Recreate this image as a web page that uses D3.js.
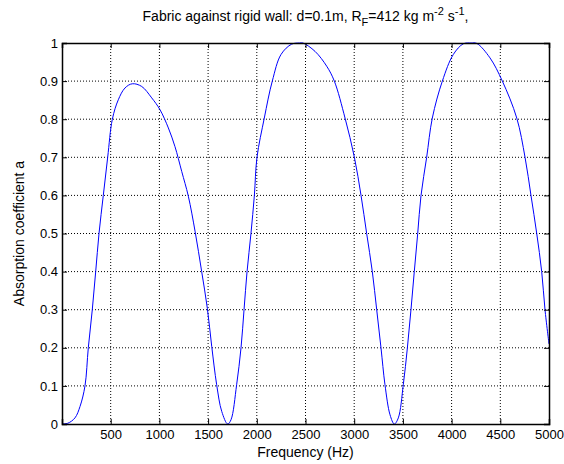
<!DOCTYPE html>
<html>
<head>
<meta charset="utf-8">
<script src="https://cdn.jsdelivr.net/npm/d3@7"></script>
<style>
  body { margin: 0; background: #fff; }
  text { font-family: "Liberation Sans", Arial, sans-serif; }
</style>
</head>
<body>
<script>
// chart size and plot box
var w = 564;
var h = 464;
var plotLeft = 62, plotRight = 549, plotTop = 43, plotBottom = 424;

// values
var freq = [0, 60, 133, 185, 236, 270, 311, 346, 380, 424, 469, 517, 578, 647, 722, 818, 921, 1006, 1092, 1160,
            1229, 1297, 1366, 1434, 1492, 1537, 1588, 1640, 1701, 1735, 1793, 1838, 1869, 1900, 1940, 1975, 2002,
            2077, 2159, 2249, 2358, 2440, 2474, 2598, 2718, 2796, 2906, 3002, 3070, 3128, 3186, 3231, 3275, 3316,
            3368, 3412, 3453, 3504, 3546, 3583, 3617, 3652, 3686, 3744, 3802, 3905, 4018, 4121, 4200, 4258, 4394,
            4521, 4669, 4754, 4815, 4874, 4925, 4959, 5000];
var alpha = [0, 0.002, 0.016, 0.046, 0.10, 0.20, 0.30, 0.40, 0.50, 0.60, 0.70, 0.80, 0.851, 0.882, 0.893, 0.886, 0.856, 0.825, 0.777, 0.728,
             0.663, 0.598, 0.506, 0.40, 0.304, 0.204, 0.103, 0.033, 0.0, 0.011, 0.103, 0.20, 0.30, 0.40, 0.50, 0.60, 0.70,
             0.803, 0.90, 0.97, 0.997, 1.0, 1.0, 0.978, 0.939, 0.90, 0.803, 0.70, 0.60, 0.50, 0.40, 0.30, 0.20, 0.103,
             0.024, 0.0, 0.016, 0.103, 0.20, 0.30, 0.40, 0.50, 0.60, 0.70, 0.803, 0.90, 0.97, 0.998, 1.0, 0.999, 0.961,
             0.90, 0.803, 0.70, 0.60, 0.50, 0.40, 0.30, 0.21];
var xTicks = [500, 1000, 1500, 2000, 2500, 3000, 3500, 4000, 4500, 5000];
var yTicks = [0, 0.1, 0.2, 0.3, 0.4, 0.5, 0.6, 0.7, 0.8, 0.9, 1];

var dataset = freq.map(function(f, i) { return [f, alpha[i]]; });

var x_scale = d3.scaleLinear().domain([0, 5000]).range([plotLeft, plotRight]);
var y_scale = d3.scaleLinear().domain([0, 1]).range([plotBottom, plotTop]);

var svg = d3.select("body")
            .append("svg")
            .attr("width", w)
            .attr("height", h);

svg.append("rect")
   .attr("width", w).attr("height", h).attr("fill", "#fff");

// dotted grid
svg.selectAll("line.gx")
   .data(xTicks.slice(0, -1))
   .enter()
   .append("line")
   .attr("class", "gx")
   .attr("x1", function(d) { return x_scale(d); })
   .attr("x2", function(d) { return x_scale(d); })
   .attr("y1", plotTop).attr("y2", plotBottom)
   .attr("stroke", "#000").attr("stroke-width", 1)
   .attr("stroke-dasharray", "1,2");

svg.selectAll("line.gy")
   .data(yTicks.slice(1, -1))
   .enter()
   .append("line")
   .attr("class", "gy")
   .attr("y1", function(d) { return y_scale(d); })
   .attr("y2", function(d) { return y_scale(d); })
   .attr("x1", plotLeft).attr("x2", plotRight)
   .attr("stroke", "#000").attr("stroke-width", 1)
   .attr("stroke-dasharray", "1,2");

// the curve
var line = d3.line()
             .x(function(d) { return x_scale(d[0]); })
             .y(function(d) { return y_scale(Math.max(0, d[1])); })
             .curve(d3.curveCatmullRom.alpha(0.5));

svg.append("path")
   .datum(dataset)
   .attr("d", line)
   .attr("fill", "none")
   .attr("stroke", "#0000ff")
   .attr("stroke-width", 1);

// axes, ticks pointing inward like matlab
var x_axis = d3.axisBottom(x_scale).tickValues(xTicks).tickSize(-5).tickPadding(6).tickFormat(d3.format("d"));
var y_axis = d3.axisLeft(y_scale).tickValues(yTicks).tickSize(-5).tickPadding(4).tickFormat(function(d) { return String(+d.toFixed(1)); });
var x_top = d3.axisTop(x_scale).tickValues(xTicks).tickSize(-5).tickFormat("");
var y_right = d3.axisRight(y_scale).tickValues(yTicks).tickSize(-5).tickFormat("");

function styleAxis(g) {
  g.selectAll(".domain").attr("stroke", "#000").attr("stroke-width", 1.5);
  g.selectAll(".tick line").attr("stroke", "#000");
  g.selectAll("text").attr("fill", "#000").style("font-size", "13px")
   .style("font-family", "'Liberation Sans', Arial, sans-serif");
}

svg.append("g").attr("transform", "translate(0," + plotBottom + ")").call(x_axis).call(styleAxis);
svg.append("g").attr("transform", "translate(" + plotLeft + ",0)").call(y_axis).call(styleAxis);
svg.append("g").attr("transform", "translate(0," + plotTop + ")").call(x_top).call(styleAxis);
svg.append("g").attr("transform", "translate(" + plotRight + ",0)").call(y_right).call(styleAxis);

// title with sub/superscripts
var title = svg.append("text")
   .attr("x", (plotLeft + plotRight) / 2)
   .attr("y", 21)
   .attr("text-anchor", "middle")
   .style("font-size", "14px");
title.append("tspan").text("Fabric against rigid wall: d=0.1m, R");
title.append("tspan").attr("dy", 5).style("font-size", "11px").text("F");
title.append("tspan").attr("dy", -5).text("=412 kg m");
title.append("tspan").attr("dy", -6).style("font-size", "11px").text("-2");
title.append("tspan").attr("dy", 6).text(" s");
title.append("tspan").attr("dy", -6).style("font-size", "11px").text("-1");
title.append("tspan").attr("dy", 6).text(",");

svg.append("text")
   .attr("x", (plotLeft + plotRight) / 2)
   .attr("y", 457)
   .attr("text-anchor", "middle")
   .style("font-size", "14px")
   .text("Frequency (Hz)");

svg.append("text")
   .attr("transform", "translate(24," + (plotTop + plotBottom) / 2 + ") rotate(-90)")
   .attr("text-anchor", "middle")
   .style("font-size", "14px")
   .text("Absorption coefficient a");
</script>
</body>
</html>
